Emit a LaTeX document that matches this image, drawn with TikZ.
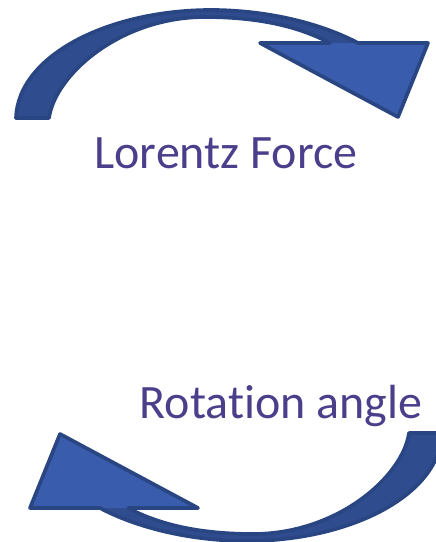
\documentclass[tikz,border=0pt]{standalone}
\usepackage{fontspec}
\setmainfont{Carlito}[Ligatures=NoCommon]
\definecolor{pfeil}{HTML}{3A5CAC}
\definecolor{pfeilschaft}{HTML}{2F4C8E}
\definecolor{rand}{HTML}{2A4682}
\definecolor{schrift}{HTML}{4B3F8C}

\begin{document}
\begin{tikzpicture}[x=0.02cm, y=-0.02cm,
      label/.style={text=schrift, font=\fontsize{27.3}{31}\selectfont, inner sep=0pt, anchor=base},
      outline/.style={draw=rand, line width=2.1pt, line join=round},
      curvearrow/.pic={
        % shaft and head as one outline
        \fill[pfeilschaft] (16,118) .. controls (18,55) and (110,9) .. (215,10)
          .. controls (280,11) and (330,28) .. (358,43) -- (428,43) -- (398,117)
          -- (260,43) -- (330,43) .. controls (300,27) and (260,17) .. (205,17)
          .. controls (120,17) and (55,75) .. (49,118) -- cycle;
        \fill[pfeil] (358,43) -- (428,43) -- (398,117) -- (260,43) -- (330,43) -- cycle;
        \draw[outline] (16,118) .. controls (18,55) and (110,9) .. (215,10)
          .. controls (280,11) and (330,28) .. (358,43) -- (428,43) -- (398,117)
          -- (260,43) -- (330,43) .. controls (300,27) and (260,17) .. (205,17)
          .. controls (120,17) and (55,75) .. (49,118) -- cycle;
      } ]
    \useasboundingbox (0,0) rectangle (436,542);
    \clip (0,0) rectangle (436,542);

    \pic (top) at (0,0) {curvearrow};
    \pic[rotate=180] (bottom) at (458,551) {curvearrow};

    \node[label] (lorentz)  at (226,168) {Lorentz Force};
    \node[label] (rotation) at (281,418) {Rotation angle};
  \end{tikzpicture}
\end{document}
